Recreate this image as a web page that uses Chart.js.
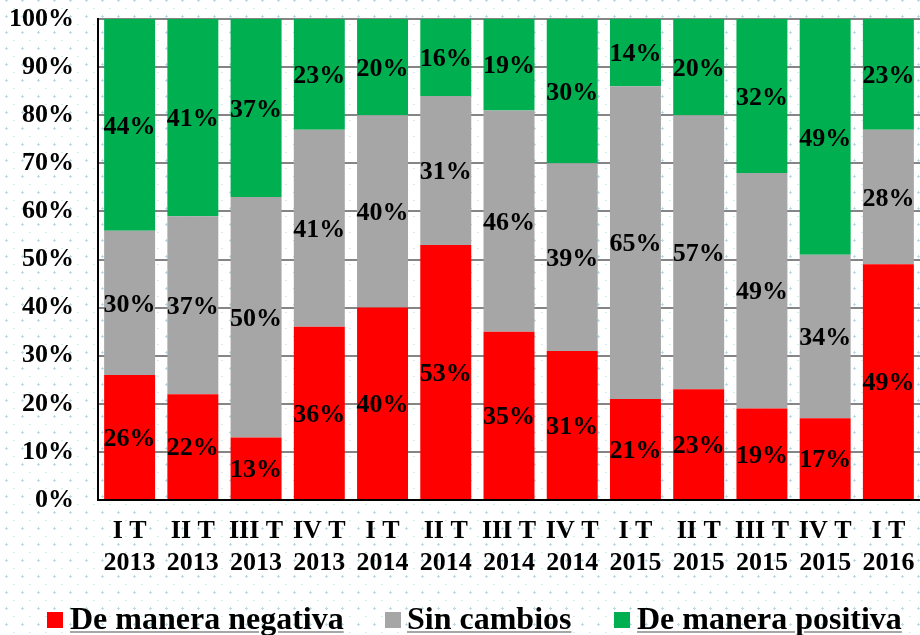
<!DOCTYPE html>
<html>
<head>
<meta charset="utf-8">
<script src="https://cdn.jsdelivr.net/npm/chart.js@4"></script>
<style>
  html, body { margin: 0; padding: 0; }
  body { width: 920px; height: 635px; overflow: hidden; background-color: #fff; }
  #wrap { position: relative; width: 920px; height: 635px; }
  #legend { position: absolute; left: 0; top: 602px; width: 920px; height: 32px;
    font: bold 32px "Liberation Serif", "Times New Roman", serif; color: #000; }
  .box { position: absolute; top: 10px; width: 16px; height: 16px; }
  .lbl { position: absolute; top: 0; line-height: 32px; white-space: nowrap; text-decoration: underline;
    text-decoration-color: #a6a6a6; text-decoration-thickness: 2px; text-underline-offset: 2px; }
</style>
</head>
<body>
<div id="wrap">
  <canvas id="myChart" width="920" height="635"></canvas>
  <div id="legend"></div>
</div>
<script>
const quarters = [["I T", "2013"], ["II T", "2013"], ["III T", "2013"], ["IV T", "2013"],
  ["I T", "2014"], ["II T", "2014"], ["III T", "2014"], ["IV T", "2014"],
  ["I T", "2015"], ["II T", "2015"], ["III T", "2015"], ["IV T", "2015"], ["I T", "2016"]];
const negativa = [26, 22, 13, 36, 40, 53, 35, 31, 21, 23, 19, 17, 49];
const sinCambios = [30, 37, 50, 41, 40, 31, 46, 39, 65, 57, 49, 34, 28];
const positiva = [44, 41, 37, 23, 20, 16, 19, 30, 14, 20, 32, 49, 23];
const seriesNames = ["De manera negativa", "Sin cambios", "De manera positiva"];
const seriesColors = ["#ff0000", "#a6a6a6", "#00b050"];

// dotted page background
const tile = document.createElement("canvas");
tile.width = 16;
tile.height = 16;
const tctx = tile.getContext("2d");
tctx.fillStyle = "#b9dde8";
tctx.fillRect(5, 0, 3, 1);
tctx.fillRect(6, 15, 1, 1);
tctx.fillRect(6, 1, 1, 1);
tctx.fillStyle = "#d6ebee";
tctx.fillRect(13, 8, 2, 1);
document.body.style.backgroundImage = "url(" + tile.toDataURL() + ")";

const serif = "'Liberation Serif', 'Times New Roman', serif";
const labelFont = "bold 26px " + serif;

const barLabels = {
  id: "barLabels",
  afterDatasetsDraw(chart) {
    const ctx = chart.ctx;
    ctx.save();
    ctx.font = labelFont;
    ctx.fillStyle = "#000";
    ctx.textAlign = "center";
    ctx.textBaseline = "middle";
    chart.data.datasets.forEach((ds, i) => {
      const meta = chart.getDatasetMeta(i);
      meta.data.forEach((bar, j) => {
        const y = (bar.y + bar.base) / 2;
        ctx.fillText(ds.data[j] + "%", bar.x, y + 2);
      });
    });
    ctx.restore();
  }
};

const datasets = [negativa, sinCambios, positiva].map((d, i) => ({
  label: seriesNames[i],
  data: d,
  backgroundColor: seriesColors[i],
  borderWidth: 0,
  barPercentage: 0.806,
  categoryPercentage: 1
}));

const ctx = document.getElementById("myChart").getContext("2d");
new Chart(ctx, {
  type: "bar",
  data: { labels: quarters, datasets: datasets },
  options: {
    responsive: false,
    animation: false,
    layout: { padding: { top: 19, right: 0, left: 0, bottom: 0 } },
    plugins: { legend: { display: false }, tooltip: { enabled: false } },
    scales: {
      x: {
        stacked: true,
        grid: { display: true, drawOnChartArea: false, color: "rgba(0,0,0,0)", drawTicks: true,
          tickLength: 15, tickColor: "rgba(0,0,0,0)" },
        border: { display: true, color: "#000", width: 2 },
        ticks: {
          color: "#000",
          padding: 0,
          maxRotation: 0,
          autoSkip: false,
          font: { family: serif, size: 26, weight: "bold", lineHeight: 1.23 }
        },
        afterFit(scale) { scale.height = 135; }
      },
      y: {
        stacked: true,
        min: 0,
        max: 100,
        grid: { color: "#858585", lineWidth: 2, drawTicks: true, tickLength: 21, tickColor: "rgba(0,0,0,0)" },
        border: { display: true, color: "#000", width: 2 },
        ticks: {
          stepSize: 10,
          color: "#000",
          padding: 3,
          callback: v => v + "%",
          font: { family: serif, size: 26, weight: "bold" }
        },
        afterFit(scale) { scale.width = 98; }
      }
    }
  },
  plugins: [barLabels]
});

// legend with underlined text
const legendPos = [[47, 70], [385, 407], [614, 637]];
const legendDiv = document.getElementById("legend");
seriesNames.forEach((name, i) => {
  const box = document.createElement("div");
  box.className = "box";
  box.style.left = legendPos[i][0] + "px";
  box.style.background = seriesColors[i];
  legendDiv.appendChild(box);
  const lbl = document.createElement("span");
  lbl.className = "lbl";
  lbl.style.left = legendPos[i][1] + "px";
  lbl.textContent = name;
  legendDiv.appendChild(lbl);
});
</script>
</body>
</html>
